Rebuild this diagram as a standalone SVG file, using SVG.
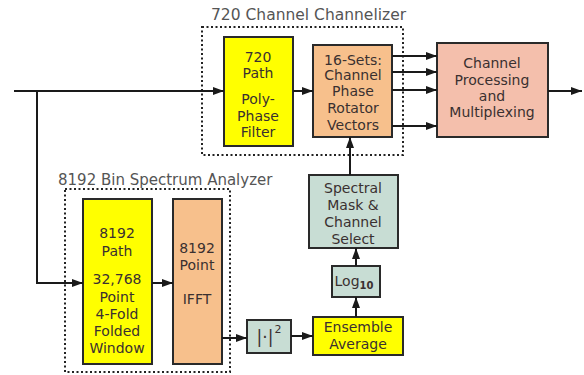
<svg xmlns="http://www.w3.org/2000/svg" width="584" height="375" viewBox="0 0 584 375">
<defs>
<marker id="ah" markerUnits="userSpaceOnUse" markerWidth="11" markerHeight="10" viewBox="0 0 11 10" refX="11" refY="5" orient="auto">
<path d="M0,1 L11,5 L0,9 Z" fill="#1a1a1a"/>
</marker>
</defs>
<style>
text{font-family:"DejaVu Sans","Liberation Sans",sans-serif;font-size:14px;fill:#3a3030;text-anchor:middle}
.title{font-size:15.5px;fill:#555;text-anchor:start}
.box{stroke:#2a2a2a;stroke-width:2}
.yel{fill:#ffff00}
.org{fill:#f7c08c}
.pink{fill:#f4bfac}
.grn{fill:#c8ddd4}
.dot{fill:none;stroke:#222;stroke-width:2;stroke-dasharray:2 2.5}
.con{fill:none;stroke:#1a1a1a;stroke-width:2;marker-end:url(#ah)}
</style>
<rect width="584" height="375" fill="#fff"/>
<g id="channelizer">
<rect class="dot" x="202" y="27" width="201" height="128"/>
<text class="title" x="211" y="20">720 Channel Channelizer</text>
</g>
<g id="analyzer">
<rect class="dot" x="65" y="189" width="165" height="183"/>
<text class="title" x="58" y="185" style="font-size:15px">8192 Bin Spectrum Analyzer</text>
</g>
<g id="polyphase">
<rect class="box yel" x="224" y="37" width="69" height="109"/>
<text x="258" y="62">720</text>
<text x="258" y="78">Path</text>
<text x="258" y="104">Poly-</text>
<text x="258" y="121">Phase</text>
<text x="258" y="137">Filter</text>
</g>
<g id="rotator">
<rect class="box org" x="313" y="45" width="79" height="92"/>
<text x="353" y="65">16-Sets:</text>
<text x="353" y="80">Channel</text>
<text x="353" y="96">Phase</text>
<text x="353" y="113">Rotator</text>
<text x="353" y="130">Vectors</text>
</g>
<g id="chanproc">
<rect class="box pink" x="437" y="43" width="111" height="94"/>
<text x="492" y="68">Channel</text>
<text x="492" y="85">Processing</text>
<text x="492" y="101">and</text>
<text x="492" y="117">Multiplexing</text>
</g>
<g id="window">
<rect class="box yel" x="83" y="199" width="69" height="165"/>
<text x="117" y="238">8192</text>
<text x="117" y="256">Path</text>
<text x="117" y="284">32,768</text>
<text x="117" y="302">Point</text>
<text x="117" y="319">4-Fold</text>
<text x="117" y="336">Folded</text>
<text x="117" y="353">Window</text>
</g>
<g id="ifft">
<rect class="box org" x="173" y="199" width="49" height="165"/>
<text x="197" y="253">8192</text>
<text x="197" y="270">Point</text>
<text x="197" y="304">IFFT</text>
</g>
<g id="magsq">
<rect class="box grn" x="247" y="320" width="44" height="33"/>
<text x="265" y="343" style="font-size:17px">|·|</text>
<text x="278" y="333" style="font-size:11px">2</text>
</g>
<g id="ensemble">
<rect class="box yel" x="313" y="317" width="90" height="38"/>
<text x="358" y="332">Ensemble</text>
<text x="358" y="349">Average</text>
</g>
<g id="log10">
<rect class="box grn" x="332" y="266" width="48" height="31"/>
<text x="354" y="286">Log<tspan style="font-size:10px;font-weight:bold" dy="3">10</tspan></text>
</g>
<g id="spectral">
<rect class="box grn" x="309" y="175" width="89" height="73"/>
<text x="353" y="193">Spectral</text>
<text x="353" y="210">Mask &amp;</text>
<text x="353" y="227">Channel</text>
<text x="353" y="244">Select</text>
</g>
<g id="connectors">
<path class="con" d="M14,91 H224"/>
<path class="con" d="M37,91 V283 H83"/>
<path class="con" d="M293,91 H313"/>
<path class="con" d="M392,56 H437"/>
<path class="con" d="M392,72 H437"/>
<path class="con" d="M392,90 H437"/>
<path class="con" d="M392,126 H437"/>
<path class="con" d="M548,91 H582"/>
<path class="con" d="M152,283 H173"/>
<path class="con" d="M222,338 H247"/>
<path class="con" d="M291,336 H313"/>
<path class="con" d="M356,317 V297"/>
<path class="con" d="M356,266 V248"/>
<path class="con" d="M350,175 V137"/>
</g>
</svg>
